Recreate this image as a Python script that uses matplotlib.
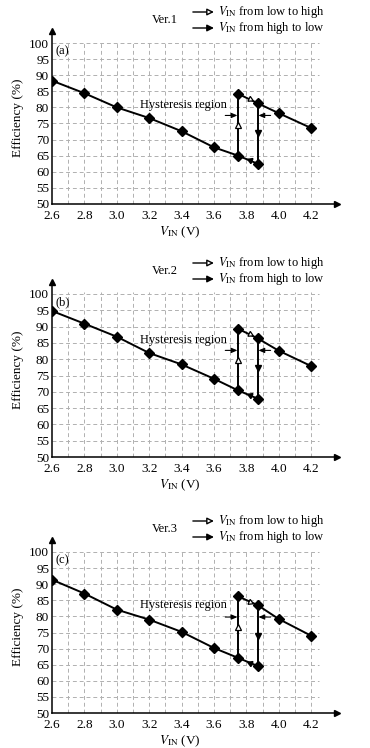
import numpy as np
import matplotlib
matplotlib.use("Agg")
import matplotlib.pyplot as plt

plt.rcParams['font.family'] = ['Liberation Serif', 'DejaVu Serif']
plt.rcParams['mathtext.fontset'] = 'stix'

# ---- data ----
v_lower = [2.6, 2.8, 3.0, 3.2, 3.4, 3.6, 3.75, 3.87]
v_upper = [3.75, 3.87, 4.0, 4.2]
eff_lower = {
    'a': [88.3, 84.4, 80.0, 76.7, 72.6, 67.6, 65.0, 62.5],
    'b': [94.8, 90.9, 86.9, 81.9, 78.4, 74.0, 70.4, 67.9],
    'c': [91.4, 87.1, 82.1, 79.0, 75.2, 70.2, 67.1, 64.6],
}
eff_upper = {
    'a': [84.2, 81.3, 78.2, 73.6],
    'b': [89.3, 86.4, 82.6, 77.9],
    'c': [86.2, 83.5, 79.2, 74.0],
}
versions = {'a': 'Ver.1', 'b': 'Ver.2', 'c': 'Ver.3'}
hyst_text_y = {'a': 80.7, 'b': 86.0, 'c': 83.4}
hyst_arrow_y = {'a': 77.5, 'b': 82.7, 'c': 79.8}
x_ticks = [2.6, 2.8, 3.0, 3.2, 3.4, 3.6, 3.8, 4.0, 4.2]
y_ticks = list(range(50, 101, 5))
x_grid = [2.7, 2.8, 2.9, 3.0, 3.1, 3.2, 3.3, 3.4, 3.5, 3.6, 3.7, 3.8, 3.9, 4.0, 4.1, 4.2]
y_grid = list(range(55, 101, 5))

W, H = 370, 748
fig = plt.figure(figsize=(W / 100, H / 100), dpi=100)

ax_left_px = 52
ax_right_px = 337
y50_px = {'a': 204, 'b': 457, 'c': 713}
px_per_pct = {'a': 3.22, 'b': 3.26, 'c': 3.22}
XMIN, XMAX = 2.6, 4.36
YMIN, YMAX = 50, 103.6

fs_tick = 9.5
fs = 9

for key in ['a', 'b', 'c']:
    ppp = px_per_pct[key]
    h_px = (YMAX - YMIN) * ppp
    bottom = (H - y50_px[key]) / H
    ax = fig.add_axes([ax_left_px / W, bottom, (ax_right_px - ax_left_px) / W, h_px / H])
    ax.set_xlim(XMIN, XMAX)
    ax.set_ylim(YMIN, YMAX)
    for s in ['top', 'right']:
        ax.spines[s].set_visible(False)
    for s in ['left', 'bottom']:
        ax.spines[s].set_linewidth(1.1)
    ax.plot(1, 0, '>k', markersize=4.5, transform=ax.transAxes, clip_on=False)
    ax.plot(0, 1, '^k', markersize=4.5, transform=ax.transAxes, clip_on=False)

    ax.set_xticks(x_ticks)
    ax.set_xticklabels([f'{t:.1f}' for t in x_ticks], fontsize=fs_tick)
    ax.set_yticks(y_ticks)
    ax.set_yticklabels([str(t) for t in y_ticks], fontsize=fs_tick)
    ax.tick_params(axis='y', length=0, pad=2)
    ax.tick_params(axis='x', length=0, pad=4)

    ax.hlines(y_grid, 2.6, 4.25, colors='#b0b0b0', linestyles=(0, (4, 3)), linewidth=0.7, zorder=0)
    ax.vlines(x_grid, 50, 100.5, colors='#b0b0b0', linestyles=(0, (4, 3)), linewidth=0.7, zorder=0)

    el = eff_lower[key]
    eu = eff_upper[key]
    lw = 1.4
    ax.plot(v_lower, el, '-', color='black', lw=lw, marker='D', markersize=5, zorder=3)
    ax.plot(v_upper, eu, '-', color='black', lw=lw, marker='D', markersize=5, zorder=3)
    ax.plot([v_lower[6], v_upper[0]], [el[6], eu[0]], '-', color='black', lw=lw, zorder=2)
    ax.plot([v_lower[7], v_upper[1]], [el[7], eu[1]], '-', color='black', lw=lw, zorder=2)

    ax.plot(v_lower[6], (el[6] + eu[0]) / 2, marker='^', markersize=4.5,
            mfc='white', mec='black', mew=0.9, zorder=4)
    ax.plot(v_lower[7], (el[7] + eu[1]) / 2, marker='v', markersize=4.5,
            color='black', zorder=4)

    fig.canvas.draw()
    def seg_angle(x0, y0, x1, y1):
        p0 = ax.transData.transform((x0, y0))
        p1 = ax.transData.transform((x1, y1))
        return np.degrees(np.arctan2(p1[1] - p0[1], p1[0] - p0[0]))
    xd = 3.82
    yu = np.interp(xd, v_upper[:2], eu[:2])
    ang_u = seg_angle(v_upper[0], eu[0], v_upper[1], eu[1])
    ax.plot(xd, yu, marker=(3, 0, ang_u - 90), markersize=4.5,
            mfc='white', mec='black', mew=0.9, zorder=4)
    yl = np.interp(xd, v_lower[6:8], el[6:8])
    ang_l = seg_angle(v_lower[7], el[7], v_lower[6], el[6])
    ax.plot(xd, yl, marker=(3, 0, ang_l - 90), markersize=4.5,
            color='black', zorder=4)

    ax.text(3.68, hyst_text_y[key], 'Hysteresis region', fontsize=fs,
            ha='right', va='center')
    ya = hyst_arrow_y[key]
    ap = dict(arrowstyle='-|>,head_length=0.35,head_width=0.15', color='black', lw=0.8,
              shrinkA=0, shrinkB=0)
    ax.annotate('', xy=(v_lower[6] - 0.005, ya), xytext=(3.67, ya), arrowprops=ap)
    ax.annotate('', xy=(v_lower[7] + 0.005, ya), xytext=(3.95, ya), arrowprops=ap)

    ax.text(2.62, 100 - 2.5 * 3.22 / ppp, f'({key})', fontsize=fs, ha='left', va='center')

    y1 = 100 + 31 / ppp
    y2 = 100 + 15 / ppp
    yv = 100 + 23 / ppp
    ax.text(3.30, yv, versions[key], fontsize=fs, ha='center', va='center', clip_on=False)
    ap_open = dict(arrowstyle='-|>,head_length=0.4,head_width=0.2', color='black', lw=1.0,
                   fc='white', shrinkA=0, shrinkB=0)
    ap_fill = dict(arrowstyle='-|>,head_length=0.4,head_width=0.2', color='black', lw=1.0,
                   shrinkA=0, shrinkB=0)
    ax.annotate('', xy=(3.60, y1), xytext=(3.47, y1), arrowprops=ap_open, annotation_clip=False)
    ax.annotate('', xy=(3.60, y2), xytext=(3.47, y2), arrowprops=ap_fill, annotation_clip=False)
    ax.text(3.625, y1, r'$V_{\mathrm{IN}}$ from low to high', fontsize=fs, ha='left',
            va='center', clip_on=False)
    ax.text(3.625, y2, r'$V_{\mathrm{IN}}$ from high to low', fontsize=fs, ha='left',
            va='center', clip_on=False)

    ax.set_xlabel(r'$V_{\mathrm{IN}}$ (V)', fontsize=fs_tick)
    ax.xaxis.set_label_coords((180 - ax_left_px) / (ax_right_px - ax_left_px), -0.12)
    ax.set_ylabel('Efficiency (%)', fontsize=fs_tick, labelpad=4)

fig.savefig('out.png', dpi=100)
